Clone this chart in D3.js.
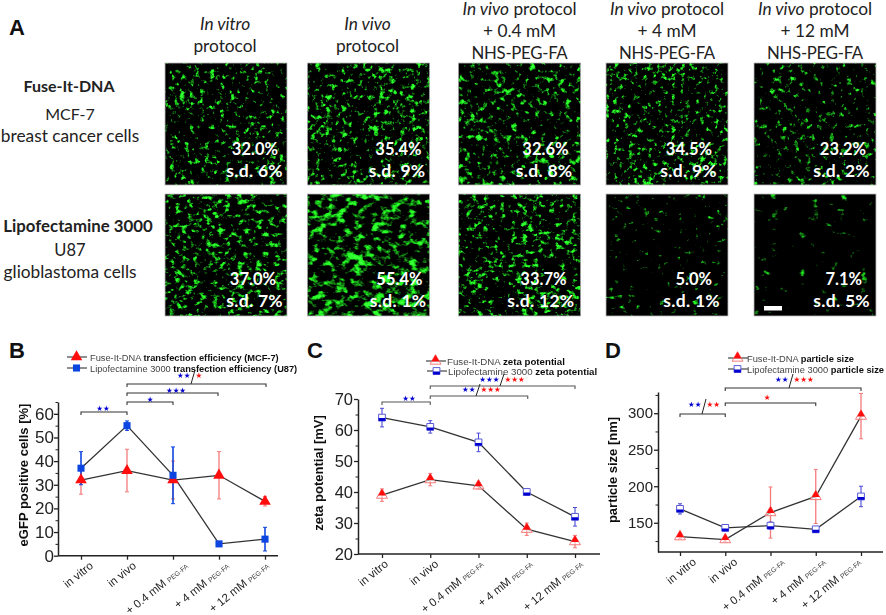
<!DOCTYPE html>
<html>
<head>
<meta charset="utf-8">
<script src="https://cdn.jsdelivr.net/npm/d3@7"></script>
<style>
  html, body { margin: 0; padding: 0; background: #fff; }
  svg { display: block; }
  text { font-family: "Liberation Sans", Arial, sans-serif; }
  .cal { font-family: Lato, "Open Sans", sans-serif; fill: #222; }
</style>
</head>
<body>
<div id="chart"></div>
<script>
// x categories, shared by the three line charts
const categories = ["in vitro", "in vivo", "+ 0.4 mM", "+ 4 mM", "+ 12 mM"];
const categorySuffix = ["", "", "PEG-FA", "PEG-FA", "PEG-FA"];

// B: eGFP positive cells [%]
const transFuse = [32, 36, 32, 34, 23];
const transFuseSd = [6, 9, 8, 10, 2];
const transLipo = [37, 55, 34, 5, 7];
const transLipoSd = [7, 2, 12, 1, 5];

// C: zeta potential [mV]
const zetaFuse = [39, 44, 42, 28, 24];
const zetaFuseSd = [2, 2, 1, 2, 2];
const zetaLipo = [64, 61, 56, 40, 32];
const zetaLipoSd = [3, 2, 3, 1, 3];

// D: particle size [nm]
const sizeFuse = [131, 127, 164, 186, 296];
const sizeFuseSd = [3, 3, 35, 37, 31];
const sizeLipo = [169, 143, 146, 141, 186];
const sizeLipoSd = [7, 4, 5, 4, 14];

// significance brackets: [from, to, blue stars, red stars]
const transBrackets = [[0, 1, 2, 0], [1, 2, 1, 0], [1, 3, 3, 0], [1, 4, 2, 1]];
const zetaBrackets = [[0, 1, 2, 0], [1, 3, 2, 3], [1, 4, 3, 3]];
const sizeBrackets = [[0, 1, 2, 2], [1, 3, 0, 1], [1, 4, 2, 3]];

// A: micrograph captions
const columnHeads = [
  [["In vitro", true]], [["In vivo", true]],
  [["In vivo", true], [" protocol", false]], [["In vivo", true], [" protocol", false]], [["In vivo", true], [" protocol", false]]
];
const columnHeadRest = [["protocol"], ["protocol"], ["+ 0.4 mM", "NHS-PEG-FA"], ["+ 4 mM", "NHS-PEG-FA"], ["+ 12 mM", "NHS-PEG-FA"]];
const percentRows = [
  ["32.0%", "35.4%", "32.6%", "34.5%", "23.2%"],
  ["37.0%", "55.4%", "33.7%", "5.0%", "7.1%"]
];
const sdRows = [
  ["s.d. 6%", "s.d. 9%", "s.d. 8%", "s.d. 9%", "s.d. 2%"],
  ["s.d. 7%", "s.d. 1%", "s.d. 12%", "s.d. 1%", "s.d. 5%"]
];

const svg = d3.select("#chart").append("svg").attr("width", 886).attr("height", 615);
const defs = svg.append("defs");

// slight softening, the reference is a blurry raster
defs.append("filter").attr("id", "soft")
  .attr("filterUnits", "userSpaceOnUse").attr("x", 0).attr("y", 0).attr("width", 886).attr("height", 615)
  .append("feGaussianBlur").attr("stdDeviation", 0.3);

// ---------- panel A ----------
// the photographs are only imitated, with an SVG noise filter as texture
const panelX = [165, 307.5, 458.5, 606, 754];
const panelY = [63, 194];
const panelSize = 122;
const pctInset = [[9, 8, 12, 16, 10], [11, 7, 14, 16, 14]];
const sdInset = [[4, 4, 8, 11, 6], [4, 3, 6, 8, 6]];
const pctBase = [155, 285];
const sdBase = [177, 307];
const noiseThreshold = [[.58, .55, .56, .57, .6], [.54, .49, .55, .67, .69]];
const noiseFreq = [["0.2", "0.19", "0.17", "0.21", "0.17"], ["0.16 0.21", "0.11 0.15", "0.18 0.22", "0.14 0.18", "0.1 0.13"]];

const opaque = "1 0 0 0 0  0 1 0 0 0  0 0 1 0 0  0 0 0 0 1";
percentRows.forEach((row, r) => row.forEach((pct, c) => {
  const id = "cells" + r + c;
  const f = defs.append("filter").attr("id", id)
    .attr("x", 0).attr("y", 0).attr("width", 1).attr("height", 1)
    .attr("color-interpolation-filters", "sRGB");
  f.append("feTurbulence").attr("type", "fractalNoise")
    .attr("baseFrequency", noiseFreq[r][c]).attr("numOctaves", 3)
    .attr("seed", 3 + r * 7 + c * 11);
  f.append("feColorMatrix").attr("type", "matrix").attr("values", opaque).attr("result", "fine");
  f.append("feTurbulence").attr("type", "fractalNoise")
    .attr("baseFrequency", 0.035).attr("numOctaves", 2)
    .attr("seed", 40 + r * 5 + c * 3);
  f.append("feColorMatrix").attr("type", "matrix").attr("values", opaque).attr("result", "coarse");
  f.append("feComposite").attr("in", "fine").attr("in2", "coarse").attr("operator", "arithmetic")
    .attr("k1", 0).attr("k2", 0.95).attr("k3", 0.25).attr("k4", -0.1);
  const k = 5, t = noiseThreshold[r][c], w = 0.14;
  f.append("feColorMatrix").attr("type", "matrix").attr("values",
    `${k * w} 0 0 0 ${-k * w * t}  ${k} 0 0 0 ${-k * t}  ${k * w} 0 0 0 ${-k * w * t}  0 0 0 0 1`);
  f.append("feGaussianBlur").attr("stdDeviation", 0.4);

  const px = panelX[c], py = panelY[r];
  svg.append("rect").attr("x", px).attr("y", py)
    .attr("width", panelSize).attr("height", panelSize)
    .attr("filter", `url(#${id})`);
  svg.append("rect").attr("x", px).attr("y", py)
    .attr("width", panelSize).attr("height", panelSize)
    .attr("fill", "none").attr("stroke", "#bbb").attr("stroke-width", 0.8);

  svg.append("text").attr("class", "cal").attr("x", px + panelSize - pctInset[r][c]).attr("y", pctBase[r])
    .attr("text-anchor", "end").attr("font-size", 16.5).attr("font-weight", 700)
    .style("fill", "#fff").text(pct);
  svg.append("text").attr("class", "cal").attr("x", px + panelSize - sdInset[r][c]).attr("y", sdBase[r])
    .attr("text-anchor", "end").attr("font-size", 17.5).attr("font-weight", 700)
    .attr("letter-spacing", 0.3).style("fill", "#fff").text(sdRows[r][c]);
}));

// scale bar
svg.append("rect").attr("x", 764).attr("y", 306).attr("width", 18).attr("height", 4.5).attr("fill", "#fff");

columnHeads.forEach((head, c) => {
  const cx = panelX[c] + panelSize / 2 - (c < 2 ? 1 : 0);
  const top = c < 2 ? 30 : 15;
  const t = svg.append("text").attr("class", "cal").attr("x", cx).attr("y", top)
    .attr("text-anchor", "middle").attr("font-size", 17.3);
  head.forEach(([s, it]) => t.append("tspan").attr("font-style", it ? "italic" : "normal")
    .attr("xml:space", "preserve").text(s));
  columnHeadRest[c].forEach((s, i) => {
    const isNhs = s.startsWith("NHS");
    svg.append("text").attr("class", "cal").attr("x", cx).attr("y", top + 22.2 * (i + 1))
      .attr("text-anchor", "middle").attr("font-size", isNhs ? 16.8 : 17.3)
      .attr("letter-spacing", isNhs ? -0.3 : 0).text(s);
  });
});

const sideLabels = [
  ["Fuse-It-DNA", 69, 92, 700, 16], ["MCF-7", 70, 120, 400, 16], ["breast cancer cells", 70, 142, 400, 17.3],
  ["Lipofectamine 3000", 78, 232, 700, 16.8], ["U87", 70, 256, 400, 16.5], ["glioblastoma cells", 70, 278, 400, 17.3]
];
sideLabels.forEach(([s, x, y, w, fs]) => {
  svg.append("text").attr("class", "cal").attr("x", x).attr("y", y)
    .attr("text-anchor", "middle").attr("font-size", fs).attr("font-weight", w).text(s);
});

[["A", 9, 35], ["B", 9, 358], ["C", 307, 358], ["D", 605, 358]].forEach(([s, x, y]) => {
  svg.append("text").attr("x", x).attr("y", y).attr("font-size", 22).attr("font-weight", 700).attr("fill", "#111").text(s);
});

// ---------- line charts ----------
const RED = "#ff0d0d", RED_PALE = "#f47a7a", BLUE = "#0b45e0", BLUE_DARK = "#0000d0";

defs.append("clipPath").attr("id", "upperHalf").append("rect").attr("x", -10).attr("y", -10).attr("width", 20).attr("height", 10.5);
defs.append("clipPath").attr("id", "lowerHalf").append("rect").attr("x", -10).attr("y", 0.5).attr("width", 20).attr("height", 10);

const triangle = d3.symbol().type(d3.symbolTriangle);
const square = d3.symbol().type(d3.symbolSquare);

function marker(g, kind, style, x, y) {
  const m = g.append("g").attr("transform", `translate(${x},${y})`);
  if (style === "solid") {
    m.append("path").attr("d", (kind === "tri" ? triangle.size(58) : square.size(50))()).attr("fill", kind === "tri" ? RED : BLUE);
  } else if (kind === "tri") {
    m.append("path").attr("d", triangle.size(52)()).attr("fill", "#fff").attr("fill-opacity", 0.5).attr("stroke", RED_PALE).attr("stroke-width", 1);
    m.append("path").attr("d", triangle.size(52)()).attr("fill", RED).attr("clip-path", "url(#upperHalf)");
  } else {
    m.append("path").attr("d", square.size(46)()).attr("fill", "#fff").attr("stroke", "#5a5ad8").attr("stroke-width", 1);
    m.append("path").attr("d", square.size(46)()).attr("fill", BLUE_DARK).attr("clip-path", "url(#lowerHalf)");
  }
}

function lineChart(o) {
  const g = svg.append("g").attr("filter", "url(#soft)");
  const x = d3.scalePoint().domain(d3.range(categories.length)).range(o.xRange);
  const y = d3.scaleLinear().domain(o.yDomain).range(o.yRange);
  const base = o.yRange[0];

  // y axis, minor ticks first
  g.append("g").attr("transform", `translate(${o.axisX},0)`)
    .call(d3.axisLeft(y).tickValues(o.minor).tickSize(2.5).tickFormat(""))
    .call(a => a.select(".domain").remove())
    .selectAll("line").attr("stroke", "#222").attr("stroke-width", 1);
  const ya = g.append("g").attr("transform", `translate(${o.axisX},0)`)
    .call(d3.axisLeft(y).tickValues(o.major).tickSize(4).tickPadding(o.tickPad).tickSizeOuter(0));
  ya.select(".domain").attr("stroke", "#222").attr("stroke-width", 1.5);
  ya.selectAll("line").attr("stroke", "#222").attr("stroke-width", 1.3);
  ya.selectAll("text").attr("font-size", o.tickFont).attr("fill", "#222").style("font-family", '"Liberation Sans"');

  // x axis
  const xa = g.append("g").attr("transform", `translate(0,${base})`)
    .call(d3.axisBottom(x).tickSize(4).tickFormat(""));
  xa.select(".domain").remove();
  xa.selectAll("line").attr("stroke", "#222").attr("stroke-width", 1.3);
  g.append("line").attr("x1", o.axisX).attr("x2", o.axisEnd).attr("y1", base).attr("y2", base)
    .attr("stroke", "#222").attr("stroke-width", 1.5);

  categories.forEach((c, i) => {
    const t = g.append("text")
      .attr("transform", `translate(${x(i) + o.labelNudge[i]},${base + 9}) rotate(-39)`)
      .attr("text-anchor", "end").attr("y", 3).attr("font-size", 11.5).attr("fill", "#222");
    t.append("tspan").text(c + (categorySuffix[i] ? " " : ""));
    if (categorySuffix[i]) t.append("tspan").attr("font-size", 6.8).attr("fill", "#444").text(categorySuffix[i]);
  });

  g.append("text").attr("transform", `translate(${o.titleX},${o.titleY}) rotate(-90)`)
    .attr("text-anchor", "middle").attr("font-size", o.titleSize).attr("font-weight", 700).attr("fill", "#111").text(o.title);

  // series, pale one underneath
  const line = d3.line().x((d, i) => x(i)).y(d => y(d));
  [o.fuse, o.lipo].forEach(s => {
    g.append("path").attr("d", line(s)).attr("fill", "none").attr("stroke", "#333").attr("stroke-width", 1.3);
  });
  const bars = (vals, sd, col, w) => vals.forEach((v, i) => {
    const e = g.append("g").attr("stroke", col).attr("stroke-width", w);
    e.append("line").attr("x1", x(i)).attr("x2", x(i)).attr("y1", y(v - sd[i])).attr("y2", y(v + sd[i]));
    [v - sd[i], v + sd[i]].forEach(c => e.append("line").attr("stroke-width", 1)
      .attr("x1", x(i) - 2).attr("x2", x(i) + 2).attr("y1", y(c)).attr("y2", y(c)));
  });
  bars(o.fuse, o.fuseSd, RED_PALE, 1.3);
  bars(o.lipo, o.lipoSd, o.markerStyle === "solid" ? BLUE : "#4a4ad8", o.markerStyle === "solid" ? 1.6 : 1.1);
  o.fuse.forEach((v, i) => marker(g, "tri", o.markerStyle, x(i), y(v)));
  o.lipo.forEach((v, i) => marker(g, "sq", o.markerStyle, x(i), y(v)));

  // legend
  [["Fuse-It-DNA ", o.legendBold[0], "tri"], ["Lipofectamine 3000 ", o.legendBold[1], "sq"]].forEach((l, i) => {
    const ly = o.legendY[i], lx = o.legendX[i];
    g.append("line").attr("x1", lx).attr("x2", lx + 20).attr("y1", ly).attr("y2", ly)
      .attr("stroke", "#444").attr("stroke-width", 1.2);
    marker(g, l[2], o.markerStyle, lx + 9.5, ly);
    const t = g.append("text").attr("x", lx + o.legendGap).attr("y", ly + 3.5).attr("font-size", o.legendSize).attr("fill", "#444");
    t.append("tspan").text(l[0]);
    t.append("tspan").attr("font-weight", 700).attr("fill", "#111").text(l[1]);
  });

  // brackets, with the slash drawn as a line between the two star groups
  o.brackets.forEach(([a, b, nBlue, nRed], i) => {
    const by = o.bracketY[i], xb = x(b) + (o.bracketNudge ? o.bracketNudge[i] : 0);
    g.append("path").attr("d", `M${x(a)},${by + 3}V${by}H${xb}V${by + 3}`)
      .attr("fill", "none").attr("stroke", o.bracketColor).attr("stroke-width", 1.1);
    const cx = o.starX[i], sy = o.starY[i], both = nBlue && nRed;
    const stars = (n, col, dx, anchor) => g.append("text").attr("x", cx + dx).attr("y", sy)
      .attr("text-anchor", anchor).attr("font-size", 7.5).attr("fill", col)
      .style("font-family", '"DejaVu Sans"').text("★".repeat(n));
    if (both) {
      stars(nBlue, BLUE_DARK, -2.5, "end");
      stars(nRed, RED, 2.5, "start");
      g.append("line").attr("x1", cx - 2).attr("x2", cx + 2).attr("y1", by).attr("y2", sy - 8)
        .attr("stroke", "#222").attr("stroke-width", 1);
    } else if (nBlue) stars(nBlue, BLUE_DARK, 0, "middle");
    else stars(nRed, RED, 0, "middle");
  });
}

lineChart({
  xRange: [81, 265], yDomain: [0, 65], yRange: [555.7, 402],
  axisX: 58, axisEnd: 278, tickFont: 17, tickPad: 0,
  major: d3.range(0, 61, 10), minor: d3.range(5, 66, 10),
  labelNudge: [11, 8, 14, 9, 3],
  title: "eGFP positive cells [%]", titleX: 28, titleY: 475, titleSize: 13,
  fuse: transFuse, fuseSd: transFuseSd, lipo: transLipo, lipoSd: transLipoSd,
  markerStyle: "solid", bracketColor: "#333",
  legendBold: ["transfection efficiency (MCF-7)", "transfection efficiency (U87)"],
  legendX: [67, 67], legendY: [357, 368], legendSize: 9.25, legendGap: 23,
  brackets: transBrackets, bracketY: [412, 402, 393, 384], bracketNudge: [0, 0, -1, 1],
  starX: [103, 150, 176, 193], starY: [411, 402, 393, 378]
});

lineChart({
  xRange: [382, 575], yDomain: [20, 70], yRange: [554, 399],
  axisX: 358, axisEnd: 600, tickFont: 16.5, tickPad: 1,
  major: d3.range(20, 71, 10), minor: d3.range(25, 70, 10),
  labelNudge: [5, 7, 4, 5, 7],
  title: "zeta potential [mV]", titleX: 323, titleY: 473, titleSize: 13,
  fuse: zetaFuse, fuseSd: zetaFuseSd, lipo: zetaLipo, lipoSd: zetaLipoSd,
  markerStyle: "half", bracketColor: "#555",
  legendBold: ["zeta potential", "zeta potential"],
  legendX: [426, 427], legendY: [361, 371], legendSize: 9.7, legendGap: 21,
  brackets: zetaBrackets, bracketY: [402, 396, 386], bracketNudge: [0, 1, 0],
  starX: [409, 478, 502], starY: [401, 392, 382]
});

lineChart({
  xRange: [680, 861], yDomain: [110, 329], yRange: [552, 392],
  axisX: 658, axisEnd: 883, tickFont: 15, tickPad: 1,
  major: [150, 200, 250, 300], minor: [125, 175, 225, 275, 325],
  labelNudge: [15, 11, 13, 9, -1],
  title: "particle size [nm]", titleX: 617, titleY: 470, titleSize: 13,
  fuse: sizeFuse, fuseSd: sizeFuseSd, lipo: sizeLipo, lipoSd: sizeLipoSd,
  markerStyle: "half", bracketColor: "#333",
  legendBold: ["particle size", "particle size"],
  legendX: [728, 728], legendY: [358, 369], legendSize: 9.3, legendGap: 19,
  brackets: sizeBrackets, bracketY: [414, 403, 388], bracketNudge: [0, 0, 0],
  starX: [704, 767, 791], starY: [407, 400, 382]
});
</script>
</body>
</html>
